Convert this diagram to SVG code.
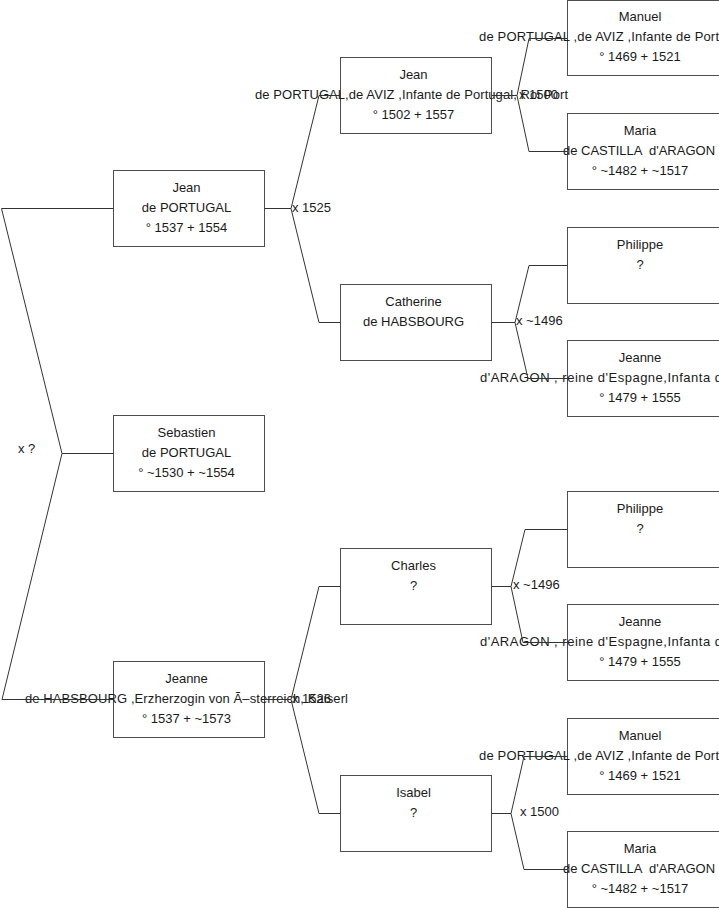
<svg xmlns="http://www.w3.org/2000/svg" width="719" height="908" viewBox="0 0 719 908">
<style>
.box{fill:#ffffff;stroke:#4d4d4d;stroke-width:1}
.t{font-family:"Liberation Sans",Arial,sans-serif;font-size:13px;fill:#1a1a1a}
.c{text-anchor:middle}
.edge{fill:none;stroke:#333333;stroke-width:1}
</style>
<rect width="719" height="908" fill="#ffffff"/>
<g id="n-jean1">
<rect class="box" x="113.5" y="170.5" width="151" height="76"/>
<text class="t c" x="186.5" y="191.5">Jean</text>
<text class="t c" x="186.5" y="211.5">de PORTUGAL</text>
<text class="t c" x="186.5" y="231.5">° 1537 + 1554</text>
</g>
<g id="n-sebastien">
<rect class="box" x="113.5" y="415.5" width="151" height="76"/>
<text class="t c" x="186.5" y="436.5">Sebastien</text>
<text class="t c" x="186.5" y="456.5">de PORTUGAL</text>
<text class="t c" x="186.5" y="476.5">° ~1530 + ~1554</text>
</g>
<g id="n-jeanne1">
<rect class="box" x="113.5" y="661.5" width="151" height="76"/>
<text class="t c" x="186.5" y="682.5">Jeanne</text>
<text class="t" x="25" y="702.5" textLength="323" lengthAdjust="spacing">de HABSBOURG ,Erzherzogin von Ã–sterreich, Kaiserl</text>
<text class="t c" x="186.5" y="722.5">° 1537 + ~1573</text>
</g>
<g id="n-jean2">
<rect class="box" x="340.5" y="57.5" width="151" height="76"/>
<text class="t c" x="413.5" y="78.5">Jean</text>
<text class="t" x="255" y="98.5" textLength="313" lengthAdjust="spacing">de PORTUGAL,de AVIZ ,Infante de Portugal, Roi Port</text>
<text class="t c" x="413.5" y="118.5">° 1502 + 1557</text>
</g>
<g id="n-catherine">
<rect class="box" x="340.5" y="284.5" width="151" height="76"/>
<text class="t c" x="413.5" y="305.5">Catherine</text>
<text class="t c" x="413.5" y="325.5">de HABSBOURG</text>
</g>
<g id="n-charles">
<rect class="box" x="340.5" y="548.5" width="151" height="76"/>
<text class="t c" x="413.5" y="569.5">Charles</text>
<text class="t c" x="413.5" y="589.5">?</text>
</g>
<g id="n-isabel">
<rect class="box" x="340.5" y="775.5" width="151" height="76"/>
<text class="t c" x="413.5" y="796.5">Isabel</text>
<text class="t c" x="413.5" y="816.5">?</text>
</g>
<g id="n-manuel1">
<rect class="box" x="567.5" y="0.5" width="153" height="75"/>
<text class="t c" x="640" y="20.5">Manuel</text>
<text class="t" x="479" y="40.5" textLength="240" lengthAdjust="spacing">de PORTUGAL ,de AVIZ ,Infante de Port</text>
<text class="t c" x="640" y="60.5">° 1469 + 1521</text>
</g>
<g id="n-maria1">
<rect class="box" x="567.5" y="113.5" width="153" height="76"/>
<text class="t c" x="640" y="134.5">Maria</text>
<text class="t c" x="639" y="154.5" xml:space="preserve">de CASTILLA  d'ARAGON</text>
<text class="t c" x="640" y="174.5">° ~1482 + ~1517</text>
</g>
<g id="n-philippe1">
<rect class="box" x="567.5" y="227.5" width="153" height="76"/>
<text class="t c" x="640" y="248.5">Philippe</text>
<text class="t c" x="640" y="268.5">?</text>
</g>
<g id="n-jeanne2">
<rect class="box" x="567.5" y="340.5" width="153" height="76"/>
<text class="t c" x="640" y="361.5">Jeanne</text>
<text class="t" x="480" y="381.5" textLength="242" lengthAdjust="spacing">d'ARAGON , reine d'Espagne,Infanta d</text>
<text class="t c" x="640" y="401.5">° 1479 + 1555</text>
</g>
<g id="n-philippe2">
<rect class="box" x="567.5" y="491.5" width="153" height="76"/>
<text class="t c" x="640" y="512.5">Philippe</text>
<text class="t c" x="640" y="532.5">?</text>
</g>
<g id="n-jeanne3">
<rect class="box" x="567.5" y="604.5" width="153" height="76"/>
<text class="t c" x="640" y="625.5">Jeanne</text>
<text class="t" x="480" y="645.5" textLength="242" lengthAdjust="spacing">d'ARAGON , reine d'Espagne,Infanta d</text>
<text class="t c" x="640" y="665.5">° 1479 + 1555</text>
</g>
<g id="n-manuel2">
<rect class="box" x="567.5" y="718.5" width="153" height="76"/>
<text class="t c" x="640" y="739.5">Manuel</text>
<text class="t" x="479" y="759.5" textLength="240" lengthAdjust="spacing">de PORTUGAL ,de AVIZ ,Infante de Port</text>
<text class="t c" x="640" y="779.5">° 1469 + 1521</text>
</g>
<g id="n-maria2">
<rect class="box" x="567.5" y="831.5" width="153" height="76"/>
<text class="t c" x="640" y="852.5">Maria</text>
<text class="t c" x="639" y="872.5" xml:space="preserve">de CASTILLA  d'ARAGON</text>
<text class="t c" x="640" y="892.5">° ~1482 + ~1517</text>
</g>
<g id="connectors">
<path class="edge" d="M113.5 208.5H1.5L62 453.5L2 699.5H113.5M62 453.5H113.5"/>
<path class="edge" d="M264.5 208.5H291M340.5 95.5H319L291 208.5L319 322.5H340.5"/>
<path class="edge" d="M264.5 699.5H291M340.5 586.5H319L291 699.5L319 813.5H340.5"/>
<path class="edge" d="M491.5 95.5H517M567.5 38.5H529L517 95.5L529 151.5H567.5"/>
<path class="edge" d="M491.5 322.5H515M567.5 265.5H529L515 322.5L528 378.5H567.5"/>
<path class="edge" d="M491.5 586.5H511M567.5 529.5H525L511 586.5L523 642.5H567.5"/>
<path class="edge" d="M491.5 813.5H511M567.5 756.5H524L511 813.5L524 869.5H567.5"/>
<text class="t" x="18" y="453">x ?</text>
<text class="t" x="292" y="211.5">x 1525</text>
<text class="t" x="292" y="702.5">x 1526</text>
<text class="t" x="519" y="98.5">x 1500</text>
<text class="t" x="516" y="325">x ~1496</text>
<text class="t" x="513" y="589">x ~1496</text>
<text class="t" x="520" y="816">x 1500</text>
</g>
</svg>
